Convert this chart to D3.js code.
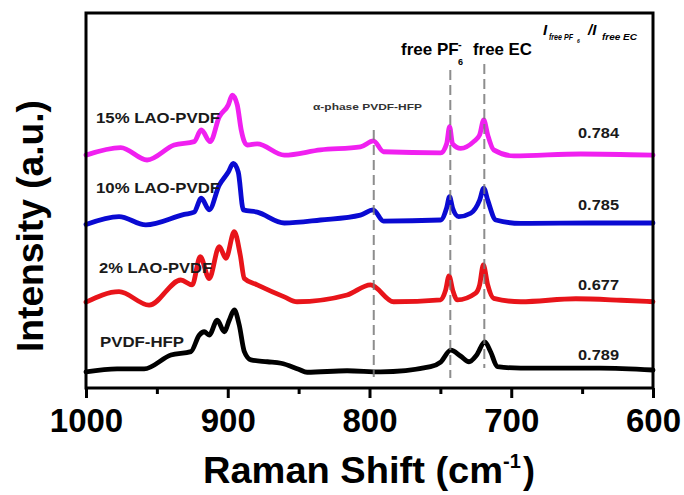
<!DOCTYPE html>
<html>
<head>
<meta charset="utf-8">
<script src="https://cdn.jsdelivr.net/npm/d3@7"></script>
<style>
  html, body { margin: 0; padding: 0; background: #fff; }
  svg { display: block; font-family: "Liberation Sans", Arial, sans-serif; }
</style>
</head>
<body>
<svg id="chart" width="684" height="495"></svg>
<script>
// Raman shift (cm^-1) and stacked intensity (a.u.) for each sample
const pvdfShift = [1000, 978.1, 959.0, 940.1, 926.0, 920.1, 916.6, 913.1, 907.4, 902.5, 898.9, 895.4, 891.9, 888.3, 883.6, 872.0, 862.4, 850.0, 844.0, 815.8, 792.2, 756.9, 749.8, 742.7, 735.7, 729.8, 724.4, 718.7, 714.5, 709.8, 693.3, 637.5, 600];
const pvdfIntensity = [4.3, 5.1, 5.1, 8.8, 9.7, 14.1, 15.0, 14.1, 18.1, 15.0, 18.1, 20.8, 16.8, 9.7, 7.5, 7.0, 6.6, 5.0, 4.2, 4.6, 4.3, 5.7, 6.9, 10.1, 8.5, 7.0, 8.8, 12.3, 9.6, 5.7, 5.3, 5.3, 4.8];

const lao2Shift = [1000, 976.7, 955.5, 933.1, 925.1, 919.4, 913.1, 906.0, 901.3, 895.4, 891.2, 888.3, 879.2, 860.1, 851.1, 815.8, 799.3, 783.0, 749.8, 746.3, 743.9, 741.3, 738.1, 725.1, 722.3, 719.7, 716.6, 712.4, 693.3, 654.4, 622.6, 600];
const lao2Intensity = [22.9, 25.7, 22.1, 28.8, 27.5, 35.0, 29.2, 37.7, 34.6, 41.7, 35.5, 29.2, 27.5, 24.3, 23.0, 24.8, 27.5, 23.0, 23.5, 26.1, 29.9, 26.1, 23.5, 25.3, 27.5, 32.8, 27.5, 23.9, 23.0, 23.8, 23.4, 23.0];

const lao10Shift = [1000, 976.7, 957.8, 930.7, 923.7, 918.7, 913.1, 906.0, 899.6, 896.1, 892.6, 889.0, 879.2, 860.1, 834.6, 806.4, 797.4, 790.1, 749.8, 745.6, 743.5, 741.4, 737.1, 728.6, 722.3, 719.4, 716.6, 710.9, 693.3, 636.7, 600];
const lao10Intensity = [43.6, 45.7, 43.5, 46.3, 46.9, 50.6, 47.5, 54.1, 57.6, 59.9, 57.6, 47.5, 46.9, 44.0, 44.8, 46.1, 47.5, 44.5, 44.8, 48.0, 51.0, 48.0, 45.7, 46.6, 50.1, 53.3, 50.1, 44.8, 43.9, 44.0, 44.0];

const lao15Shift = [1000, 975.5, 956.9, 937.8, 923.7, 918.7, 912.4, 906.0, 899.6, 896.8, 893.3, 890.5, 888.3, 886.2, 879.2, 860.1, 834.6, 806.4, 797.2, 790.1, 749.8, 745.6, 743.5, 741.4, 735.7, 726.5, 722.3, 719.4, 716.6, 712.4, 698.2, 650.9, 600];
const lao15Intensity = [62.1, 64.1, 60.8, 64.8, 65.7, 68.8, 65.7, 72.3, 75.5, 78.1, 75.5, 68.8, 65.7, 64.8, 65.1, 62.1, 63.5, 64.3, 65.9, 63.0, 62.7, 65.1, 69.7, 65.1, 63.9, 65.7, 67.5, 71.5, 67.5, 63.5, 61.9, 62.4, 62.1];

const seriesNames = ["PVDF-HFP", "2% LAO-PVDF", "10% LAO-PVDF", "15% LAO-PVDF"];
const seriesColors = ["#000000", "#e8141a", "#0a0ad2", "#f020f0"];
const ratioLabels = ["0.789", "0.677", "0.785", "0.784"];

// Reference band positions (cm^-1)
const bandNames = ["α-phase PVDF-HFP", "free PF6-", "free EC"];
const bandShifts = [797, 743, 719];

const majorTicks = [1000, 900, 800, 700, 600];
const minorTicks = [950, 850, 750, 650];

const svg = d3.select("#chart");
const margin = { left: 86, right: 653, top: 13, bottom: 388 };

const x = d3.scaleLinear().domain([1000, 600]).range([margin.left, margin.right]);
const y = d3.scaleLinear().domain([0, 100]).range([margin.bottom, margin.top]);

const series = [
  { shift: pvdfShift, intensity: pvdfIntensity },
  { shift: lao2Shift, intensity: lao2Intensity },
  { shift: lao10Shift, intensity: lao10Intensity },
  { shift: lao15Shift, intensity: lao15Intensity }
];

const line = d3.line()
  .x(d => x(d[0]))
  .y(d => y(d[1]))
  .curve(d3.curveMonotoneX);

// Spectra
series.forEach((s, i) => {
  const pts = s.shift.map((v, k) => [v, s.intensity[k]]);
  svg.append("path")
    .datum(pts)
    .attr("fill", "none")
    .attr("stroke", seriesColors[i])
    .attr("stroke-width", 4.8)
    .attr("stroke-linejoin", "round")
    .attr("stroke-linecap", "round")
    .attr("d", line);
});

// Dashed reference lines for the bands
const bandTops = [130, 70, 64];
const bandBottoms = [377, 378, 368];
bandShifts.forEach((b, i) => {
  svg.append("line")
    .attr("x1", x(b)).attr("x2", x(b))
    .attr("y1", bandTops[i]).attr("y2", bandBottoms[i])
    .attr("stroke", "#7a7a7a")
    .attr("stroke-width", 2)
    .attr("stroke-dasharray", "10,5")
    .attr("opacity", 0.85);
});

// Frame
svg.append("rect")
  .attr("x", margin.left).attr("y", margin.top)
  .attr("width", margin.right - margin.left)
  .attr("height", margin.bottom - margin.top)
  .attr("fill", "none")
  .attr("stroke", "#000")
  .attr("stroke-width", 3);

// X axis
const xAxis = svg.append("g")
  .attr("transform", `translate(0,${margin.bottom})`)
  .call(d3.axisBottom(x).tickValues(majorTicks).tickSize(10).tickPadding(11).tickFormat(d3.format("d")));
xAxis.select(".domain").remove();
xAxis.selectAll(".tick line").attr("stroke", "#000").attr("stroke-width", 3);
xAxis.selectAll(".tick text")
  .attr("fill", "#000")
  .style("font-family", "'Liberation Sans', Arial, sans-serif")
  .style("font-size", "33px")
  .style("font-weight", "bold");

const xMinor = svg.append("g")
  .attr("transform", `translate(0,${margin.bottom})`)
  .call(d3.axisBottom(x).tickValues(minorTicks).tickSize(6).tickFormat(""));
xMinor.select(".domain").remove();
xMinor.selectAll(".tick line").attr("stroke", "#000").attr("stroke-width", 3);

// Axis titles
svg.append("text")
  .attr("x", 203).attr("y", 483)
  .attr("textLength", 300)
  .attr("lengthAdjust", "spacingAndGlyphs")
  .style("font-size", "36px").style("font-weight", "bold")
  .text("Raman Shift (cm");
svg.append("text")
  .attr("x", 503).attr("y", 468)
  .style("font-size", "20px").style("font-weight", "bold")
  .text("-1");
svg.append("text")
  .attr("x", 523).attr("y", 483)
  .style("font-size", "36px").style("font-weight", "bold")
  .text(")");

svg.append("text")
  .attr("transform", "translate(43,226) rotate(-90)")
  .attr("text-anchor", "middle")
  .attr("textLength", 252)
  .attr("lengthAdjust", "spacingAndGlyphs")
  .style("font-size", "37px").style("font-weight", "bold")
  .text("Intensity (a.u.)");

// Sample labels
const labelX = [100, 99, 96, 96];
const labelY = [347, 273, 193, 123];
const labelLen = [84, 113, 124, 124];
seriesNames.forEach((n, i) => {
  svg.append("text")
    .attr("x", labelX[i]).attr("y", labelY[i])
    .attr("textLength", labelLen[i])
    .attr("lengthAdjust", "spacingAndGlyphs")
    .style("font-size", "15px").style("font-weight", "bold")
    .attr("fill", "#1a1a1a")
    .text(n);
});

// Intensity ratio values
const ratioY = [360, 290, 210, 138];
ratioLabels.forEach((r, i) => {
  svg.append("text")
    .attr("x", 578).attr("y", ratioY[i])
    .attr("textLength", 41)
    .attr("lengthAdjust", "spacingAndGlyphs")
    .style("font-size", "14.5px").style("font-weight", "bold")
    .attr("fill", "#1a1a1a")
    .text(r);
});

// Band annotations
svg.append("text")
  .attr("x", 313).attr("y", 110)
  .attr("textLength", 109)
  .attr("lengthAdjust", "spacingAndGlyphs")
  .style("font-size", "8.5px").style("font-weight", "bold")
  .attr("fill", "#333")
  .text(bandNames[0]);

svg.append("text")
  .attr("x", 401).attr("y", 55)
  .style("font-size", "17px").style("font-weight", "bold")
  .text("free PF");
svg.append("text")
  .attr("x", 458).attr("y", 65)
  .style("font-size", "9px").style("font-weight", "bold")
  .text("6");
svg.append("text")
  .attr("x", 458).attr("y", 48)
  .style("font-size", "11px").style("font-weight", "bold")
  .text("-");
svg.append("text")
  .attr("x", 473).attr("y", 55)
  .attr("textLength", 59)
  .attr("lengthAdjust", "spacingAndGlyphs")
  .style("font-size", "17px").style("font-weight", "bold")
  .text(bandNames[2]);

// Ratio header: I(free PF6) / I(free EC)
const hdr = svg.append("g").style("font-weight", "bold").style("font-style", "italic");
hdr.append("text").attr("x", 543).attr("y", 35).style("font-size", "15px").text("I");
hdr.append("text").attr("x", 549).attr("y", 40)
  .attr("textLength", 24).attr("lengthAdjust", "spacingAndGlyphs")
  .style("font-size", "8.5px").text("free PF");
hdr.append("text").attr("x", 577).attr("y", 43).style("font-size", "5px").text("6");
hdr.append("text").attr("x", 588).attr("y", 35).style("font-size", "15px").text("/I");
hdr.append("text").attr("x", 602).attr("y", 40)
  .attr("textLength", 35).attr("lengthAdjust", "spacingAndGlyphs")
  .style("font-size", "8.5px").text("free EC");
</script>
</body>
</html>
